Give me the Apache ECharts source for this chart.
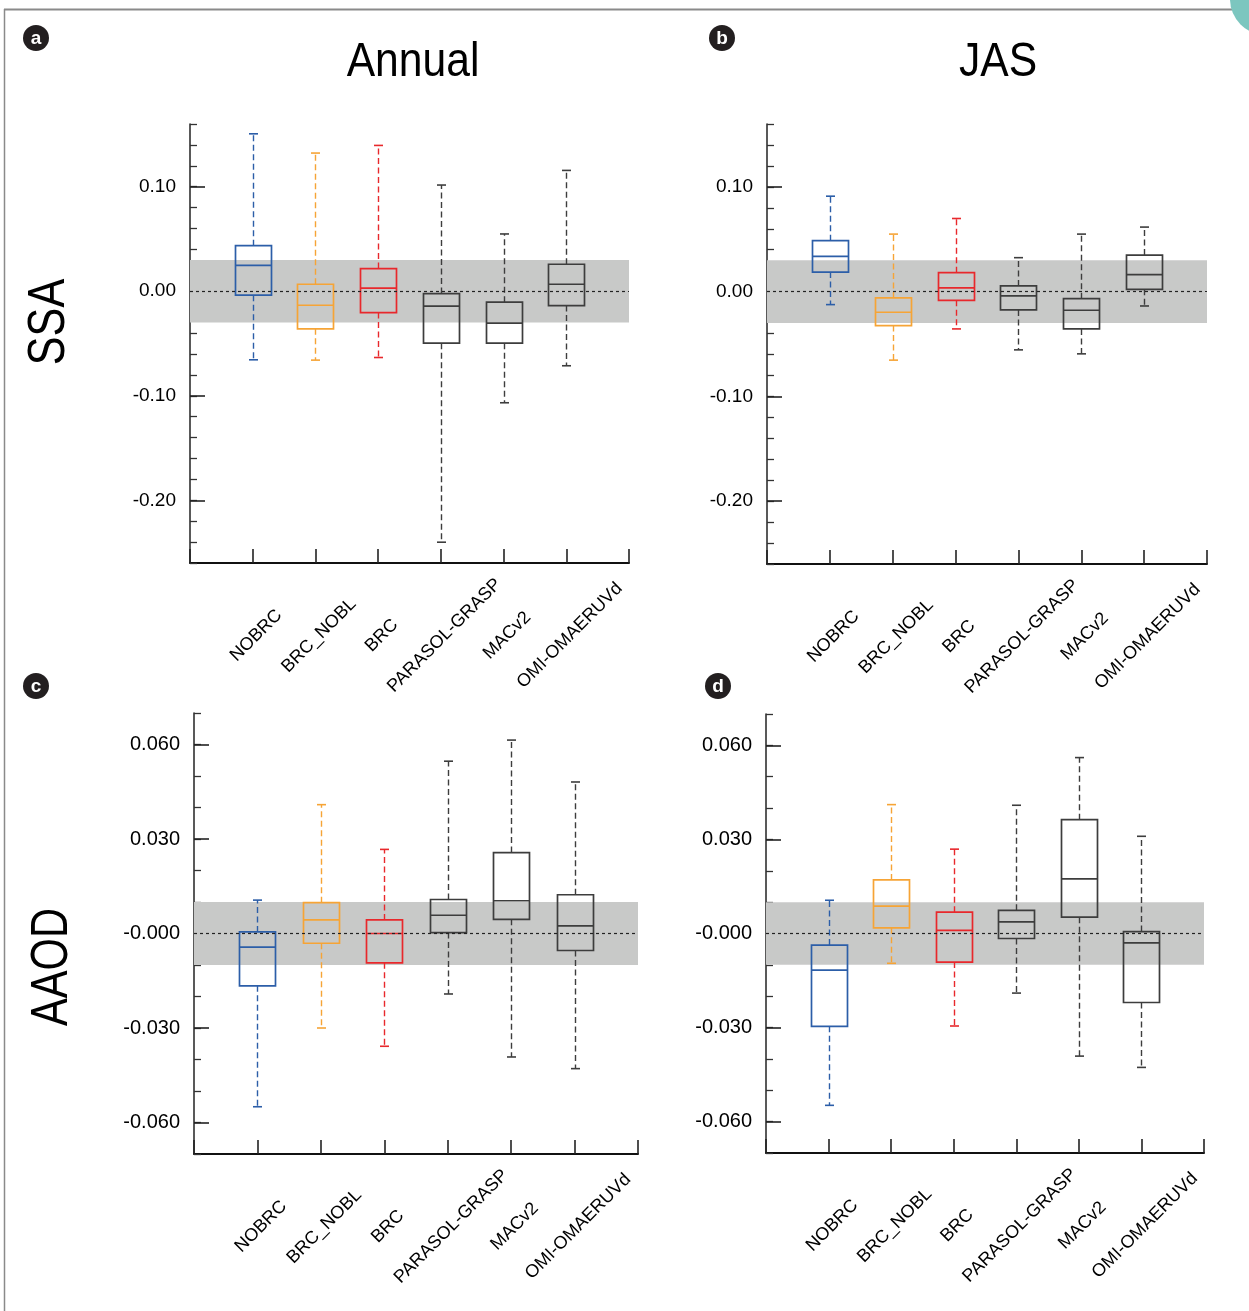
<!DOCTYPE html>
<html><head><meta charset="utf-8">
<script src="https://cdn.jsdelivr.net/npm/echarts@6/dist/echarts.min.js"></script>
<style>html,body{margin:0;padding:0;background:#fff}#c{width:1249px;height:1311px}</style>
</head><body><div id="c"></div>
<script>
// ---------- data ----------
const categories = ['NOBRC', 'BRC_NOBL', 'BRC', 'PARASOL-GRASP', 'MACv2', 'OMI-OMAERUVd'];
const boxColors = ['#2c5ea8', '#f6a436', '#e8282c', '#3d3d3d', '#3d3d3d', '#3d3d3d'];
// each row: [low whisker, Q1, median, Q3, high whisker]
const ssaAnnual = [
  [-0.0656, -0.0038, 0.0248, 0.0436, 0.1506],
  [-0.0659, -0.0360, -0.0134, 0.0067, 0.1322],
  [-0.0634, -0.0204, 0.0029, 0.0217, 0.1395],
  [-0.2401, -0.0497, -0.0143, -0.0022, 0.1016],
  [-0.1067, -0.0497, -0.0306, -0.0105, 0.0548],
  [-0.0713, -0.0137, 0.0067, 0.0258, 0.1156]
];
const ssaJAS = [
  [-0.0124, 0.0187, 0.0337, 0.0486, 0.0911],
  [-0.0654, -0.0324, -0.0197, -0.0060, 0.0549],
  [-0.0356, -0.0083, 0.0035, 0.0181, 0.0698],
  [-0.0556, -0.0175, -0.0041, 0.0054, 0.0324],
  [-0.0594, -0.0356, -0.0178, -0.0067, 0.0549],
  [-0.0137, 0.0022, 0.0162, 0.0349, 0.0616]
];
const aaodAnnual = [
  [-0.0550, -0.0166, -0.0043, 0.0005, 0.0106],
  [-0.0300, -0.0031, 0.0043, 0.0098, 0.0409],
  [-0.0358, -0.0093, 0.0000, 0.0043, 0.0267],
  [-0.0192, 0.0003, 0.0058, 0.0108, 0.0547],
  [-0.0392, 0.0045, 0.0104, 0.0257, 0.0614],
  [-0.0429, -0.0054, 0.0024, 0.0123, 0.0481]
];
const aaodJAS = [
  [-0.0548, -0.0296, -0.0117, -0.0037, 0.0106],
  [-0.0095, 0.0018, 0.0087, 0.0171, 0.0411],
  [-0.0295, -0.0091, 0.0010, 0.0068, 0.0269],
  [-0.0190, -0.0016, 0.0037, 0.0074, 0.0409],
  [-0.0391, 0.0052, 0.0174, 0.0363, 0.0561],
  [-0.0427, -0.0220, -0.0030, 0.0006, 0.0310]
];
const ssaTickValues = [-0.2, -0.1, 0, 0.1];
const ssaTickLabels = ['-0.20', '-0.10', '0.00', '0.10'];
const aaodTickValues = [-0.06, -0.03, 0, 0.03, 0.06];
const aaodTickLabels = ['-0.060', '-0.030', '-0.000', '0.030', '0.060'];
const ssaBand = [-0.03, 0.03];
const aaodBand = [-0.01, 0.01];
const panelTitles = ['Annual', 'JAS'];
const rowTitles = ['SSA', 'AAOD'];
const panelLetters = ['a', 'b', 'c', 'd'];

// ---------- layout ----------
const FONT = "'Liberation Sans', Arial, Helvetica, sans-serif";
const xCats = [''].concat(categories, ['']);

const panels = [
  { rect: { left: 190, top: 124, width: 439, height: 439 }, data: ssaAnnual, tv: ssaTickValues, tl: ssaTickLabels, min: -0.26, max: 0.16, minor: 0.02, band: ssaBand, fs: 19 },
  { rect: { left: 767, top: 124, width: 440, height: 440 }, data: ssaJAS, tv: ssaTickValues, tl: ssaTickLabels, min: -0.26, max: 0.16, minor: 0.02, band: ssaBand, fs: 19 },
  { rect: { left: 194, top: 713, width: 444, height: 441 }, data: aaodAnnual, tv: aaodTickValues, tl: aaodTickLabels, min: -0.07, max: 0.07, minor: 0.01, band: aaodBand, fs: 20 },
  { rect: { left: 766, top: 714, width: 438, height: 439 }, data: aaodJAS, tv: aaodTickValues, tl: aaodTickLabels, min: -0.07, max: 0.07, minor: 0.01, band: aaodBand, fs: 20 }
];

function boxRender(params, api) {
  const x = api.value(0);
  const lo = api.coord([x, api.value(1)]);
  const q1 = api.coord([x, api.value(2)]);
  const md = api.coord([x, api.value(3)]);
  const q3 = api.coord([x, api.value(4)]);
  const hi = api.coord([x, api.value(5)]);
  const cx = Math.round(q1[0]) + 0.5;
  const w = 36, cw = 9;
  const color = boxColors[x - 1];
  const solid = { stroke: color, lineWidth: 1.7, fill: null };
  const dashed = { stroke: color, lineWidth: 1.4, lineDash: [6, 3.5], fill: null };
  return {
    type: 'group',
    children: [
      { type: 'line', shape: { x1: cx, y1: q3[1], x2: cx, y2: hi[1] }, style: dashed },
      { type: 'line', shape: { x1: cx, y1: q1[1], x2: cx, y2: lo[1] }, style: dashed },
      { type: 'line', shape: { x1: cx - cw / 2, y1: hi[1], x2: cx + cw / 2, y2: hi[1] }, style: { stroke: color, lineWidth: 1.6 } },
      { type: 'line', shape: { x1: cx - cw / 2, y1: lo[1], x2: cx + cw / 2, y2: lo[1] }, style: { stroke: color, lineWidth: 1.6 } },
      { type: 'rect', shape: { x: cx - w / 2, y: q3[1], width: w, height: q1[1] - q3[1] }, style: solid },
      { type: 'line', shape: { x1: cx - w / 2, y1: md[1], x2: cx + w / 2, y2: md[1] }, style: solid }
    ]
  };
}

function bandRender(params, api) {
  const p0 = api.coord([0, api.value(1)]);
  const p1 = api.coord([7, api.value(0)]);
  return {
    type: 'rect',
    shape: { x: p0[0], y: p0[1], width: p1[0] - p0[0], height: p1[1] - p0[1] },
    style: { fill: '#c8c9c8' }
  };
}

const grid = [], xAxis = [], yAxis = [], series = [];
panels.forEach((p, i) => {
  grid.push(Object.assign({ containLabel: false }, p.rect));
  xAxis.push({
    gridIndex: i, type: 'category', data: xCats, boundaryGap: false, position: 'bottom',
    axisLine: { show: true, onZero: false, lineStyle: { color: '#111', width: 2 } },
    axisTick: { show: true, inside: true, length: 14, interval: 0, lineStyle: { color: '#222', width: 1.6 } },
    axisLabel: { interval: 0, rotate: 45, align: 'center', verticalAlign: 'middle', margin: 76, padding: [0, 0, 0, 10],
      fontSize: 18, fontFamily: FONT, color: '#000' },
    splitLine: { show: false }
  });
  // minor tick axis (used by series)
  yAxis.push({
    gridIndex: i, type: 'value', min: p.min, max: p.max, interval: p.minor, position: 'left',
    axisLine: { show: true, onZero: false, lineStyle: { color: '#222', width: 1.5 } },
    axisTick: { show: true, inside: true, length: 7, lineStyle: { color: '#333', width: 1.3 } },
    axisLabel: { show: false },
    splitLine: { show: false }
  });
  // major tick + label axis
  const tv = p.tv, tl = p.tl;
  yAxis.push({
    gridIndex: i, type: 'value', min: p.min, max: p.max, position: 'left',
    axisLine: { show: false, onZero: false },
    axisTick: { show: true, inside: true, length: 15, customValues: tv, lineStyle: { color: '#222', width: 1.6 } },
    axisLabel: { show: true, customValues: tv, margin: 14, fontSize: p.fs, fontFamily: FONT, color: '#000',
      formatter: function (v) {
        let k = 0, d = Infinity;
        tv.forEach((t, j) => { if (Math.abs(t - v) < d) { d = Math.abs(t - v); k = j; } });
        return tl[k];
      } },
    splitLine: { show: false }
  });
  series.push({
    type: 'custom', xAxisIndex: i, yAxisIndex: 2 * i, z: 1, silent: true,
    renderItem: bandRender, data: [[p.band[0], p.band[1]]],
    encode: { y: [0, 1] }
  });
  series.push({
    type: 'line', xAxisIndex: i, yAxisIndex: 2 * i, data: [], silent: true, z: 2,
    markLine: { silent: true, symbol: 'none', label: { show: false },
      lineStyle: { color: '#222', type: [3, 3], width: 1.2 },
      data: [{ yAxis: 0 }], animation: false }
  });
  series.push({
    type: 'custom', xAxisIndex: i, yAxisIndex: 2 * i, z: 3, silent: true,
    renderItem: boxRender,
    data: p.data.map((r, j) => [j + 1].concat(r)),
    encode: { x: 0, y: [1, 2, 3, 4, 5] }
  });
});

const graphic = [
  { type: 'line', shape: { x1: 4, y1: 9.5, x2: 1232, y2: 9.5 }, style: { stroke: '#8a8a8a', lineWidth: 2 } },
  { type: 'line', shape: { x1: 4.5, y1: 9, x2: 4.5, y2: 1311 }, style: { stroke: '#8a8a8a', lineWidth: 1.5 } },
  { type: 'circle', shape: { cx: 1266, cy: -1, r: 36 }, style: { fill: '#7cc6bf' } },
  { type: 'text', x: 413, y: 62, scaleX: 0.87, style: { text: panelTitles[0], font: '49px ' + FONT, fill: '#000', align: 'center', verticalAlign: 'middle' } },
  { type: 'text', x: 998, y: 62, scaleX: 0.87, style: { text: panelTitles[1], font: '49px ' + FONT, fill: '#000', align: 'center', verticalAlign: 'middle' } },
  { type: 'text', x: 50, y: 322, rotation: Math.PI / 2, scaleX: 0.83, style: { text: rowTitles[0], font: '52px ' + FONT, fill: '#000', align: 'center', verticalAlign: 'middle' } },
  { type: 'text', x: 53, y: 967, rotation: Math.PI / 2, scaleX: 0.8, style: { text: rowTitles[1], font: '52px ' + FONT, fill: '#000', align: 'center', verticalAlign: 'middle' } }
];
const letterPos = [[36, 38], [722, 38], [36, 686], [718, 686]];
letterPos.forEach((pos, i) => {
  graphic.push({ type: 'circle', shape: { cx: pos[0], cy: pos[1], r: 13 }, style: { fill: '#231f20' } });
  graphic.push({ type: 'text', x: pos[0], y: pos[1] + 1, style: { text: panelLetters[i], font: 'bold 19px ' + FONT, fill: '#fff', align: 'center', verticalAlign: 'middle' } });
});

const chart = echarts.init(document.getElementById('c'), null, { renderer: 'canvas' });
chart.setOption({ animation: false, backgroundColor: '#fff', grid, xAxis, yAxis, series, graphic });
</script></body></html>
